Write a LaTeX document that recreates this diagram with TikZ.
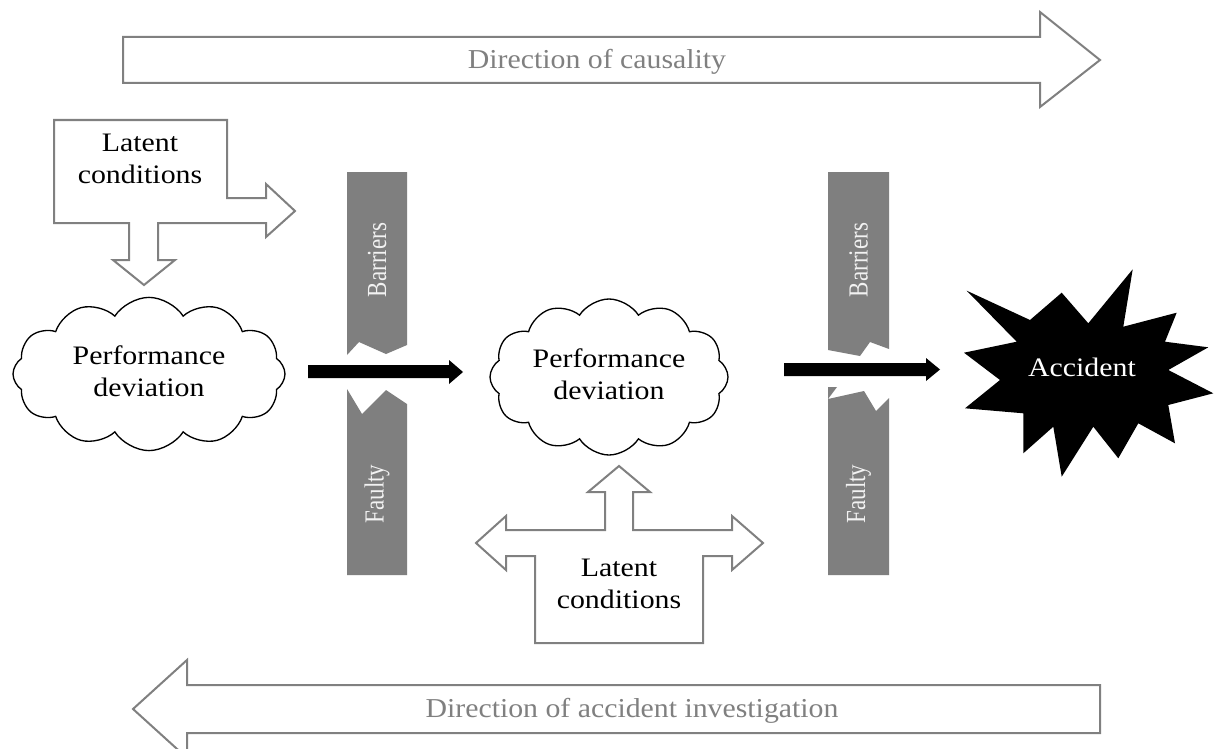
\documentclass[tikz,border=0pt]{standalone}
\usepackage{graphicx}
\usepackage{fontspec}
\setmainfont{Liberation Serif}
\usetikzlibrary{shapes.symbols}

\definecolor{linegray}{HTML}{808080}
\definecolor{bargray}{HTML}{7F7F7F}
\definecolor{softwhite}{HTML}{F2F2F2}

% horizontally widened, centred block of lines
\newcommand{\widetext}[2]{\scalebox{#1}[1]{\begin{tabular}{@{}c@{}}#2\end{tabular}}}
% rotated label stretched across its baseline
\newcommand{\tallrot}[1]{\scalebox{1}[1.2]{#1}}

\begin{document}
\begin{tikzpicture}[x=0.75pt,y=-0.75pt,
  outline/.style={draw=linegray, line width=1.5pt, fill=white, line join=miter},
  barpiece/.style={fill=bargray},
  flowarrow/.style={fill=black},
  bodytext/.style={font=\fontsize{20}{24}\selectfont, inner sep=0pt, text=black},
  dirtext/.style={font=\fontsize{20.5}{24}\selectfont, inner sep=0pt, text=linegray},
  bartext/.style={font=\fontsize{17.25}{20}\selectfont, inner sep=0pt, text=softwhite, rotate=90},
  puff/.style={cloud, cloud puffs=12, cloud puff arc=115, draw=black, line width=1pt,
               fill=white, inner sep=0pt, aspect=1.7, bodytext}
]
\useasboundingbox[fill=white] (0,0) rectangle (1214,749);

% direction of causality
\draw[outline] (123,37) -- (1040,37) -- (1040,12) -- (1100,60) -- (1040,107)
  -- (1040,83) -- (123,83) -- cycle;
\node[dirtext] (causal) at (597,62) {\widetext{1.09}{Direction of causality}};

% direction of accident investigation
\draw[outline] (1100,685) -- (187,685) -- (187,660) -- (133,709) -- (187,758)
  -- (187,733) -- (1100,733) -- cycle;
\node[dirtext] (investig) at (632,711) {\widetext{1.09}{Direction of accident investigation}};

% upper latent conditions callout
\draw[outline] (54,120) -- (227,120) -- (227,198) -- (266,198) -- (266,184)
  -- (295,211) -- (266,237) -- (266,223) -- (158,223) -- (158,260) -- (175,260)
  -- (144,285) -- (113,260) -- (129,260) -- (129,223) -- (54,223) -- cycle;
\node[bodytext] (latA) at (140,161) {\widetext{1.12}{Latent\\conditions}};

% lower latent conditions callout
\draw[outline] (619,466) -- (650,492) -- (633,492) -- (633,530) -- (732,530)
  -- (732,516) -- (763,543) -- (732,570) -- (732,556) -- (703,556) -- (703,643)
  -- (535,643) -- (535,556) -- (506,556) -- (506,570) -- (476,543) -- (506,516)
  -- (506,530) -- (605,530) -- (605,492) -- (588,492) -- cycle;
\node[bodytext] (latB) at (619,586) {\widetext{1.12}{Latent\\conditions}};

% performance deviation clouds
\node[puff, minimum width={272*0.75pt}, minimum height={152*0.75pt}] (devA) at (149,374)
  {\widetext{1.12}{Performance\\deviation}};
\node[puff, minimum width={238*0.75pt}, minimum height={156*0.75pt}] (devB) at (609,377)
  {\widetext{1.12}{Performance\\deviation}};

% first barrier, broken
\fill[barpiece] (347,172) -- (407,172) -- (407,345) -- (386,354) -- (359,342)
  -- (347,355) -- cycle;
\fill[barpiece] (347,389) -- (362,414) -- (386,390) -- (407,404) -- (407,575)
  -- (347,575) -- cycle;
\node[bartext] (barA) at (377,260) {\tallrot{Barriers}};
\node[bartext] (fltA) at (377,494) {\tallrot{Faulty}};

% second barrier, broken
\fill[barpiece] (828,172) -- (889,172) -- (889,349) -- (870,342) -- (860,356)
  -- (828,350) -- cycle;
\fill[barpiece] (828,387) -- (837,387) -- (828,399) -- (864,391) -- (876,411)
  -- (889,398) -- (889,575) -- (828,575) -- cycle;
\node[bartext] (barB) at (858.5,260) {\tallrot{Barriers}};
\node[bartext] (fltB) at (858.5,494) {\tallrot{Faulty}};

% flow through the gaps
\fill[flowarrow] (308,365) -- (449,365) -- (449,360) -- (463,372) -- (449,384)
  -- (449,378) -- (308,378) -- cycle;
\fill[flowarrow] (784,363) -- (926,363) -- (926,358) -- (940,369.5) -- (926,381)
  -- (926,376) -- (784,376) -- cycle;

% accident burst
\fill[black] (966.7,290.7) -- (1030,320) -- (1061.7,292.7) -- (1088.3,323.3)
  -- (1132.7,269.3) -- (1123.3,326.7) -- (1176.7,312.7) -- (1165,341.7)
  -- (1208.3,347.3) -- (1168.3,370) -- (1213.3,393.3) -- (1168.3,405)
  -- (1175,443.3) -- (1138.3,423.3) -- (1118.3,458.3) -- (1093.3,426.7)
  -- (1061.7,476.7) -- (1053.3,426.7) -- (1023.3,453.3) -- (1023.3,413.3)
  -- (965,408.3) -- (1000,380) -- (964,352.7) -- (1016.7,341.7) -- cycle;
\node[bodytext, text=white] (acc) at (1082,370) {\widetext{1.12}{Accident}};

\end{tikzpicture}
\end{document}
